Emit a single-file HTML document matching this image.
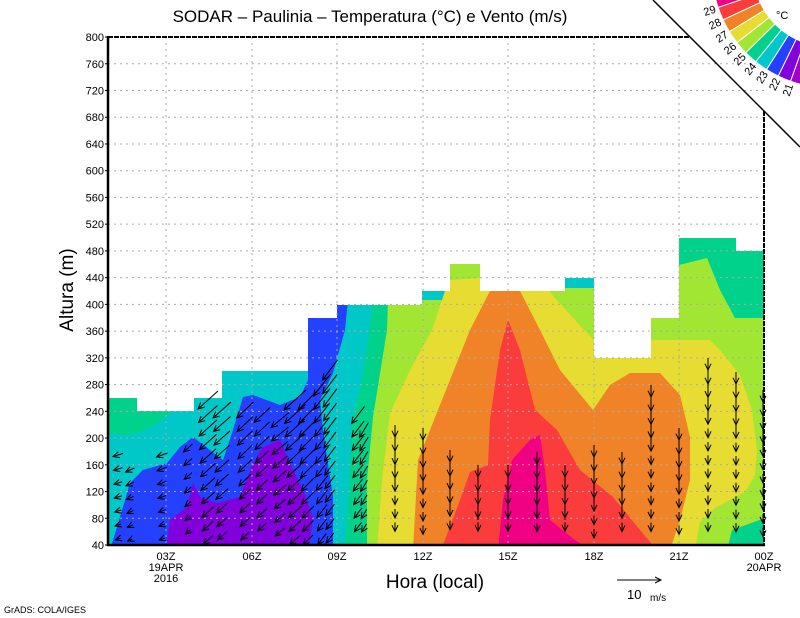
<!DOCTYPE html>
<html><head><meta charset="utf-8"><style>
html,body{margin:0;padding:0;background:#fff;}
svg{display:block;font-family:"Liberation Sans",sans-serif;}
</style></head><body>
<svg id="s" width="800" height="618" viewBox="0 0 800 618" xmlns="http://www.w3.org/2000/svg">
<defs>
<clipPath id="dc"><polygon points="108,545 108,398 137,398 137,411 194,411 194,398 222,398 222,371 308,371 308,318 337,318 337,305 422,305 422,291 450,291 450,264 480,264 480,291 565,291 565,278 594,278 594,358 651,358 651,318 679,318 679,238 736,238 736,251 764,251 764,545"/></clipPath>
<clipPath id="lc"><polygon points="653,0 800,0 800,147"/></clipPath>
</defs>
<g clip-path="url(#dc)">
<rect x="108" y="230" width="660" height="320" fill="#00c8c8"/>
<polygon fill="#00d28c" points="372,305 800,305 800,550 345,550 348,500 350,460 352,420 362,380 368,340"/>
<polygon fill="#00d28c" points="108,395 140,395 140,408 175,408 165,418 150,428 130,435 108,433"/>
<polygon fill="#2341ff" points="110,550 120,517 130,483 143,470 167,463 180,447 193,437 210,450 223,460 233,430 243,397 253,395 280,405 300,397 308,380 308,315 337,315 337,300 348,300 345,330 333,373 320,400 323,430 333,497 333,550"/>
<polygon fill="#8200dc" points="166,550 170,520 187,507 193,483 200,497 217,503 240,497 253,463 263,447 280,440 290,463 303,490 313,517 310,540 307,550"/>
<polygon fill="#a0e632" points="388,300 800,300 800,550 367,550 367,480 373,417 387,330"/>
<polygon fill="#e6dc32" points="445,291 450,270 480,270 480,291 800,291 800,550 377,550 382,480 390,413 410,370 432,330"/>
<polygon fill="#a0e632" points="450,260 480,260 480,278 450,280"/>
<polygon fill="#a0e632" points="547,288 800,288 800,340 594,340 575,320 555,298"/>
<polygon fill="#f08228" points="413,550 418,460 440,405 470,330 490,291 520,291 540,330 560,370 593,410 610,385 630,373 660,373 680,395 690,437 690,480 680,520 670,550"/>
<polygon fill="#fa3c3c" points="440,550 445,540 460,500 470,472 488,465 490,420 500,350 508,320 520,350 535,410 557,430 580,470 613,497 640,530 657,550"/>
<polygon fill="#f00082" points="498,550 503,500 512,460 530,440 540,435 545,470 550,520 575,540 590,550"/>
<polygon fill="#a0e632" points="679,230 800,230 800,550 695,550 700,522 715,508 745,492 755,475 757,450 752,410 740,375 720,350 700,330 679,320"/>
<polygon fill="#00d28c" points="679,230 800,230 800,318 735,318 720,290 707,258 679,265"/>
<polygon fill="#00d28c" points="727,550 732,530 765,518 800,518 800,550"/>
</g>
<g id="grid" stroke="#aaa" stroke-width="1" stroke-dasharray="2,4" fill="none"></g>
<g id="arrows" stroke="#000" stroke-width="1" fill="none"></g>
<line x1="108" y1="36" x2="108" y2="546" stroke="#000" stroke-width="2.5"/>
<line x1="107" y1="545" x2="765" y2="545" stroke="#000" stroke-width="2.5"/>
<line x1="108" y1="37" x2="690" y2="37" stroke="#000" stroke-width="2" stroke-dasharray="5,1"/>
<line x1="764" y1="111" x2="764" y2="545" stroke="#000" stroke-width="2" stroke-dasharray="5,1"/>
<g id="legend" clip-path="url(#lc)"></g>
<line x1="653" y1="0" x2="800" y2="147" stroke="#000" stroke-width="1.5"/>
<g id="ylab" font-size="11" text-anchor="end" fill="#000"></g>
<g font-size="11" text-anchor="middle" fill="#000">
<text x="166" y="560">03Z</text><text x="166" y="571">19APR</text><text x="166" y="582">2016</text>
<text x="252" y="560">06Z</text><text x="337" y="560">09Z</text><text x="423" y="560">12Z</text>
<text x="508" y="560">15Z</text><text x="594" y="560">18Z</text><text x="679" y="560">21Z</text>
<text x="764" y="560">00Z</text><text x="764" y="571">20APR</text>
</g>
<text x="370" y="22" font-size="17" text-anchor="middle">SODAR – Paulinia – Temperatura (°C) e Vento (m/s)</text>
<text x="435" y="588" font-size="19" text-anchor="middle">Hora (local)</text>
<text transform="translate(73,290) rotate(-90)" font-size="19" text-anchor="middle">Altura (m)</text>
<line x1="617" y1="580" x2="661" y2="580" stroke="#000"/><path d="M655,577 L661,580 L655,583" stroke="#000" fill="none"/>
<text x="627" y="599" font-size="13">10</text><text x="650" y="601" font-size="10">m/s</text>
<text x="4" y="613" font-size="9">GrADS: COLA/IGES</text>
<text x="776" y="19" font-size="11">°C</text>
</svg>
<script>
var NS="http://www.w3.org/2000/svg";
function el(p,t,a,txt){var e=document.createElementNS(NS,t);for(var k in a)e.setAttribute(k,a[k]);if(txt!=null)e.textContent=txt;document.getElementById(p).appendChild(e);return e;}
function Y(h){return 545-(h-40)*0.6684;}
for(var h=80;h<=760;h+=40){el("grid","line",{x1:108,x2:764,y1:Y(h),y2:Y(h)});}
[166,252,337,423,508,594,679].forEach(function(x){el("grid","line",{x1:x,x2:x,y1:37,y2:545});});
for(var h=40;h<=800;h+=40){el("ylab","text",{x:104,y:Y(h)+4},h);el("ylab","line",{x1:105,x2:108,y1:Y(h),y2:Y(h),stroke:"#000"});}
var cols=["#f00082","#fa3c3c","#f08228","#e6dc32","#a0e632","#00d28c","#00c8c8","#2341ff","#8200dc","#a000c8"];
var labs=["29","28","27","26","25","24","23","22","21"];
var cx=830,cy=-30,ri=77,ro=118,a0=168,st=6.5;
for(var i=0;i<cols.length;i++){
 var t1=(a0-i*st)*Math.PI/180,t2=(a0-(i+1)*st)*Math.PI/180;
 var p="M"+(cx+ro*Math.cos(t1))+","+(cy+ro*Math.sin(t1))+" A"+ro+","+ro+" 0 0 0 "+(cx+ro*Math.cos(t2))+","+(cy+ro*Math.sin(t2))+" L"+(cx+ri*Math.cos(t2))+","+(cy+ri*Math.sin(t2))+" A"+ri+","+ri+" 0 0 1 "+(cx+ri*Math.cos(t1))+","+(cy+ri*Math.sin(t1))+"Z";
 el("legend","path",{d:p,fill:cols[i],stroke:"#fff","stroke-width":1});
}
var sv=document.getElementById("s");
for(var i=0;i<labs.length;i++){
 var ang=a0-(i+1)*st, t=ang*Math.PI/180, r=127;
 var x=cx+r*Math.cos(t), y=cy+r*Math.sin(t);
 var e=document.createElementNS(NS,"text");
 e.setAttribute("x",x);e.setAttribute("y",y+4);e.setAttribute("font-size","11");e.setAttribute("text-anchor","middle");
 e.setAttribute("transform","rotate("+(ang-180)+" "+x+" "+y+")");e.textContent=labs[i];sv.appendChild(e);
}
function arrow(x,y,dx,dy){
 el("arrows","line",{x1:x,y1:y,x2:x+dx,y2:y+dy});
 var L=Math.sqrt(dx*dx+dy*dy)||1,ux=dx/L,uy=dy/L,hx=x+dx,hy=y+dy,s=7;
 var c=Math.cos(0.45),sn=Math.sin(0.45);
 var ax=-ux*c+uy*sn, ay=-uy*c-ux*sn, bx=-ux*c-uy*sn, by=-uy*c+ux*sn;
 el("arrows","path",{d:"M"+(hx+ax*s)+","+(hy+ay*s)+" L"+hx+","+hy+" L"+(hx+bx*s)+","+(hy+by*s)});
}
var L=[[118,455,-10,3],[130,470,-9,4],[162,455,-11,4],[188,448,-9,8],[208,400,-20,18],[222,410,-18,16],[245,410,-17,16],[262,415,-16,15],[280,420,-18,15],[295,400,-22,20],[308,400,-20,20],[322,385,-17,22],[330,370,-15,20],[358,415,-13,17],[364,430,-9,15]];
L.forEach(function(c){for(var y=c[1];y<=540;y+=14){var f=0.5+0.5*(540-y)/(540-c[1]+1);arrow(c[0]-c[2]*f/2,y-c[3]*f/2,c[2]*f,c[3]*f);}});
var R=[[395,425],[423,428],[450,450],[478,465],[508,465],[537,452],[565,465],[594,445],[622,452],[651,385],[679,428],[708,358],[736,372],[763,390]];
R.forEach(function(c){arrow(c[0],c[1],0,12);for(var y=c[1]+26;y<=540;y+=13.4){arrow(c[0],y-9,0,9);}
 el("arrows","line",{x1:c[0],y1:c[1],x2:c[0],y2:Math.min(c[1]+60,520)});});
</script>
</body></html>
